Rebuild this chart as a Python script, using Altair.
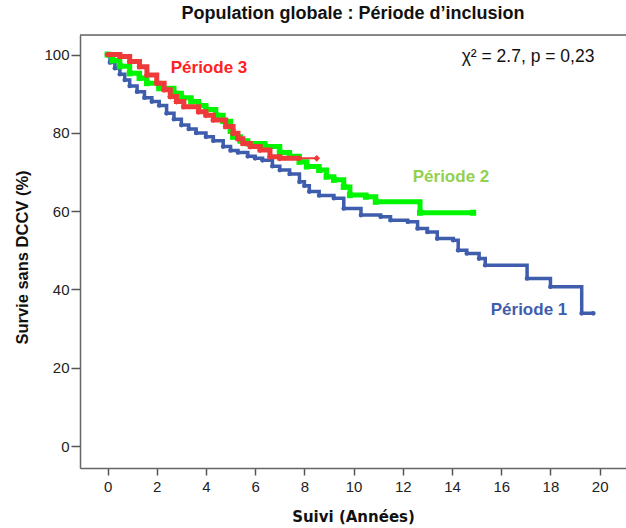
import altair as alt
import pandas as pd

# Période 1 (blue)
p1_t = [0, 0.1, 0.3, 0.5, 0.7, 0.9, 1.2, 1.5, 1.8, 2.1, 2.4, 2.7, 3.0, 3.3, 3.6, 4.0, 4.3, 4.7, 5.0, 5.3,
        5.7, 6.0, 6.3, 6.7, 7.0, 7.4, 7.8, 8.0, 8.2, 8.6, 9.2, 9.6, 10.3, 11.1, 11.5, 12.2, 12.6, 13.0,
        13.4, 14.05, 14.25, 14.6, 15.1, 15.35, 17.05, 18.0, 19.27, 19.74]
p1_s = [100, 98, 96.5, 95, 93.5, 92, 90.5, 89, 88, 87, 85, 83.5, 82, 81, 80, 79, 78, 76.5, 75.5, 75,
        74, 73.5, 73, 71.5, 70.5, 69.5, 67.5, 66.5, 65, 64, 63.3, 60.7, 59, 58.6, 57.7, 57.3, 55.6, 54.7,
        53, 52.6, 50, 49.2, 47.9, 46.2, 42.8, 40.7, 33.9, 33.9]

# Période 2 (green)
p2_t = [0, 0.2, 0.5, 0.9, 1.3, 1.6, 2.1, 2.7, 3.0, 3.4, 3.7, 4.0, 4.4, 4.7, 5.0, 5.1, 5.4, 5.7, 6.4,
        7.0, 7.4, 7.8, 8.1, 8.6, 8.9, 9.2, 9.6, 9.85, 10.5, 10.9, 12.7, 14.86]
p2_s = [100, 98.5, 97, 95.2, 94, 92.7, 91.4, 90.1, 89, 88, 87, 86, 84.5, 83, 80.5, 79, 78, 77.3, 76.5,
        75, 74, 72.6, 71.4, 70.5, 68.8, 68, 66.2, 64.1, 63.7, 62.4, 59.6, 59.6]

# Période 3 (red)
p3_t = [0, 0.5, 0.9, 1.3, 1.6, 2.0, 2.3, 2.55, 2.8, 3.1, 3.7, 4.0, 4.3, 4.8, 5.1, 5.3, 5.5, 5.8, 6.2,
        6.6, 7.0, 7.8, 8.5]
p3_s = [100, 99.5, 98.2, 96.9, 94.8, 92.7, 91, 89.3, 88, 86.7, 85.4, 84.5, 83.3, 81.6, 79.9, 78.5,
        77.3, 76.5, 75.6, 73.9, 73.5, 73.5, 73.5]
p3_thick_end = 7.8

x_ticks = [0, 2, 4, 6, 8, 10, 12, 14, 16, 18, 20]
y_ticks = [0, 20, 40, 60, 80, 100]

W, H = 546, 433
XD = [-1.12, 21.07]
YD = [-5.6, 105]

FONT = "Liberation Sans"
C1, C2, C3 = "#3F5DAD", "#00F500", "#EE3A3A"

def df(t, s):
    return pd.DataFrame({"t": t, "s": s})

xs = alt.X("t:Q", scale=alt.Scale(domain=XD, nice=False, zero=False),
           axis=alt.Axis(values=x_ticks, title="Suivi (Années)", grid=False, tickSize=7,
                         labelFontSize=15, labelColor="#222", labelPadding=4, labelFont=FONT,
                         domainColor="#666", domainWidth=1.5, tickColor="#555", tickWidth=1.5,
                         titleFont="DejaVu Sans", titleFontSize=15, titleFontWeight="bold",
                         titleColor="#111", titleY=48, titleBaseline="middle"))
ys = alt.Y("s:Q", scale=alt.Scale(domain=YD, nice=False, zero=False),
           axis=alt.Axis(values=y_ticks, title="Survie sans DCCV (%)", grid=False, tickSize=9,
                         labelFontSize=15, labelColor="#222", labelPadding=2, labelFont=FONT,
                         domainColor="#666", domainWidth=1.5, tickColor="#555", tickWidth=1.5,
                         titleFont=FONT, titleFontSize=16.5, titleFontWeight="bold", titleColor="#111",
                         titleX=-58, titleY=222, titleAngle=270, titleAlign="center",
                         titleBaseline="middle"))

def series(t, s, color, width, shape, size, thick_end=None):
    base = alt.Chart(df(t, s))
    layers = []
    thin = base.mark_line(interpolate="step-after", color=color, strokeWidth=2).encode(x=xs, y=ys)
    layers.append(thin)
    thick_base = base if thick_end is None else base.transform_filter(alt.datum.t <= thick_end)
    layers.append(thick_base.mark_line(interpolate="step-after", color=color, strokeWidth=width,
                                       strokeJoin="miter").encode(x=xs, y=ys))
    layers.append(thick_base.mark_point(shape=shape, filled=True, color=color, size=size,
                                        opacity=1).encode(x=xs, y=ys))
    return layers

layers = []
layers += series(p1_t, p1_s, C1, 3.5, "circle", 22)
layers += series(p2_t, p2_s, C2, 5, "square", 36)
layers += series(p3_t, p3_s, C3, 5, "diamond", 40, thick_end=p3_thick_end)
# red censor marker at the end
layers.append(alt.Chart(df(p3_t[-1:], p3_s[-1:])).mark_point(shape="diamond", filled=True, color=C3,
                                                              size=45, opacity=1).encode(x=xs, y=ys))

top_line = alt.Chart(pd.DataFrame({"a": [0]})).mark_rule(color="#666", strokeWidth=1.5).encode(
    x=alt.value(0), x2=alt.value(W + 5), y=alt.value(0))

def label(text, x, y, color, weight="bold", size=17):
    return alt.Chart(pd.DataFrame({"a": [0]})).mark_text(
        text=text, font=FONT, fontSize=size, fontWeight=weight, color=color,
        align="center", baseline="middle").encode(x=alt.value(x), y=alt.value(y))

annots = [
    label("Période 3", 129, 33, "#FF2222"),
    label("Période 2", 371, 142, "#92D050"),
    label("Période 1", 449, 275, "#3F5DAD"),
    label("χ² = 2.7, p = 0,23", 448, 22, "#111", weight="normal", size=17.5),
]

chart = alt.layer(top_line, *layers, *annots).properties(
    width=W, height=H,
    autosize=alt.AutoSizeParams(type="none"),
    padding={"left": 80, "top": 35, "right": 0, "bottom": 60},
    title=alt.TitleParams("Population globale : Période d’inclusion", font=FONT, fontSize=18,
                          fontWeight="bold", color="#111", anchor="middle", offset=11),
).configure_view(stroke=None).configure(background="white")

chart.save("out.html", embed_options={"renderer": "svg", "actions": False})
